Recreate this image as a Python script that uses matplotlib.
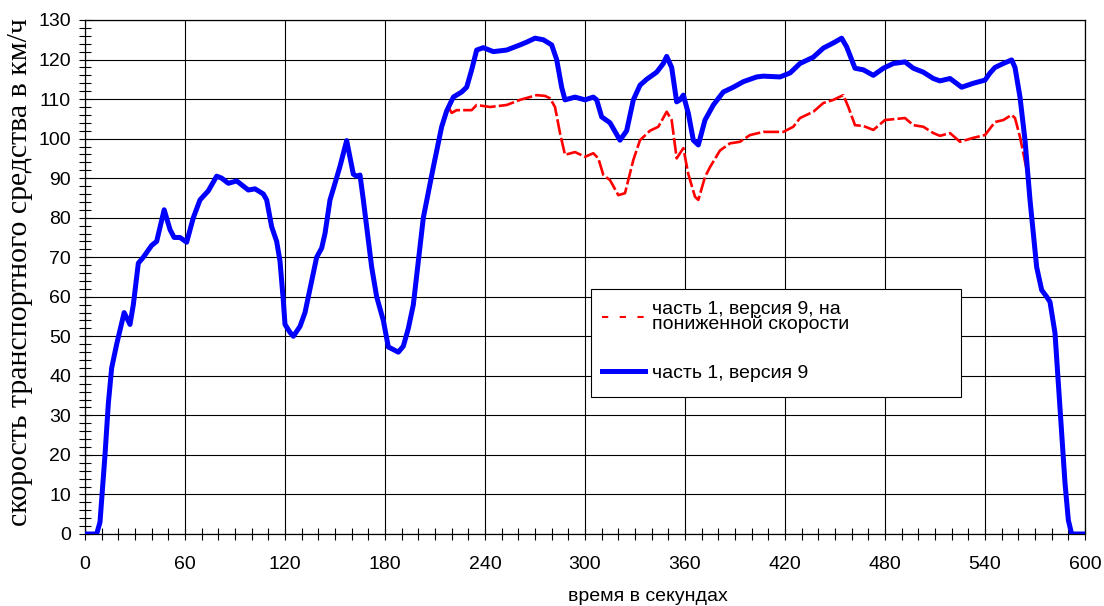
import numpy as np
import matplotlib.pyplot as plt
from matplotlib.lines import Line2D
from matplotlib.patches import Rectangle
from matplotlib.ticker import MultipleLocator

plt.rcParams['font.family'] = ['Liberation Sans', 'DejaVu Sans']

# ------------------------------
# Data
# ------------------------------

# part 1, version 9 - time in s, speed in km/h
t_v9 = [0, 7, 9, 12, 14, 16, 19, 23.5, 27, 29, 32, 35, 40, 43, 47.5, 51, 53.5, 57, 61, 65,
        69, 74, 79, 82, 86, 91, 94, 98, 102, 107, 109, 112, 115, 117, 119, 120, 123, 125, 129, 132,
        137, 139, 142, 144, 147, 150, 153, 157, 161, 163, 165, 167, 169, 172, 175, 179, 182, 188, 191, 194,
        197, 203, 209, 214, 217, 221, 226, 229, 232, 235, 239, 245, 253, 261, 265, 270, 275, 280, 283, 286,
        288, 294, 300, 305, 307, 310, 315, 321, 325, 329, 333, 337, 343, 347, 349, 352, 355, 357, 359, 362,
        365, 368, 372, 377, 383, 389, 395, 403, 407, 417, 423, 429, 437, 443, 449, 454, 457, 462, 467, 473,
        479, 485, 492, 497, 503, 509, 513, 519, 526, 533, 540, 543, 546, 551, 556, 558, 561, 564, 567, 569,
        571, 574, 577, 579, 582, 584, 586, 588, 590, 592, 600]
v_v9 = [0, 0, 3, 20, 33, 42, 48, 56, 53, 58, 68.5, 70, 73, 74, 82, 77, 75, 75, 73.8, 80,
        84.5, 86.8, 90.5, 90, 88.7, 89.3, 88.3, 87, 87.3, 86, 84.5, 77.7, 74, 69, 59, 53, 51, 50, 52.5, 56,
        66, 70, 72.3, 76, 84.5, 88.7, 93, 99.5, 91, 90.5, 90.8, 84.5, 77.7, 67.5, 60, 54, 47.3, 46, 47.5, 52,
        58, 80, 92.8, 103, 107, 110.5, 111.8, 113, 117.4, 122.4, 123, 122, 122.4, 123.7, 124.4, 125.4, 125, 123.7, 120, 113,
        109.8, 110.5, 109.8, 110.5, 109.8, 105.5, 104, 99.6, 102, 109.8, 113.5, 115, 116.8, 119, 120.8, 118, 109.3, 109.8, 111, 106.4,
        99.6, 98.4, 104.7, 108.5, 111.8, 113, 114.4, 115.6, 115.8, 115.6, 116.6, 119, 120.6, 122.9, 124.2, 125.4, 123.2, 117.8, 117.4, 116,
        117.8, 119, 119.4, 117.8, 116.8, 115.2, 114.6, 115.2, 113, 114, 114.8, 116.6, 118, 119, 119.9, 118, 110.5, 99.6, 84.5, 76,
        67.5, 61.7, 60, 58.7, 50.8, 38, 25.5, 12.9, 3.5, 0, 0]

# part 1, version 9, reduced speed - only where it differs from the curve above
t_red = [218, 220, 223, 232, 235, 243, 253, 261, 271, 276, 279, 282, 285, 288, 294, 300, 305, 308, 311, 315,
         320, 324, 329, 333, 339, 344, 349, 352, 355, 359, 362, 366, 368, 372, 375, 381, 387, 393, 399, 407,
         419, 425, 429, 437, 443, 449, 455, 458, 462, 467, 473, 480, 492, 497, 503, 509, 513, 519, 525, 533,
         540, 546, 551, 556, 558, 561, 563, 566]
v_red = [108, 106.5, 107.2, 107.2, 108.5, 108, 108.5, 109.8, 111, 110.8, 110.2, 108, 101.4, 95.9, 96.6, 95.4, 96.3, 95, 90.8, 89.5,
         85.7, 86.2, 94.6, 99.6, 102, 103, 106.8, 104.7, 95, 97.6, 91, 85.3, 84.5, 90.3, 92.8, 97, 98.8, 99.2, 100.9, 101.7,
         101.7, 103, 105.2, 106.8, 109, 109.8, 111, 108, 103.4, 103.2, 102.2, 104.7, 105.2, 103.4, 103, 101.4, 100.7, 101.4, 99.2, 100.2,
         100.9, 104.2, 104.7, 106, 105.2, 100.4, 96.3, 90]

label_red = "часть 1, версия 9, на\nпониженной скорости"
label_v9 = "часть 1, версия 9"

# ------------------------------
# Plot
# ------------------------------

fig = plt.figure(figsize=(11.04, 6.06), dpi=100)
ax = fig.add_axes([85/1104, 72/606, 1000/1104, 514/606])

ax.plot(t_red, v_red, color="red", lw=1.9, linestyle=(0, (6, 1.2)), zorder=3)
ax.plot(t_v9, v_v9, color="blue", lw=3.6, solid_joinstyle="round", solid_capstyle="round", zorder=3.5)

ax.set_xlim(0, 600)
ax.set_ylim(0, 130)
ax.xaxis.set_major_locator(MultipleLocator(60))
ax.xaxis.set_minor_locator(MultipleLocator(10))
ax.yaxis.set_major_locator(MultipleLocator(10))
ax.yaxis.set_minor_locator(MultipleLocator(2))
ax.grid(which="major", color="black", lw=0.8, zorder=0)
ax.tick_params(which="both", direction="inout", length=8, width=0.8, color="black", labelsize=14)
ax.tick_params(axis="x", pad=12)
ax.tick_params(axis="y", pad=6)
for s in ax.spines.values():
    s.set_linewidth(0.9)

ax.set_ylabel("скорость транспортного средства в км/ч", family=["Liberation Serif", "DejaVu Serif"],
              fontsize=21.5)
ax.yaxis.set_label_coords(-0.052, 0.51)
# x label sits low and off-centre, as in the source
fig.text(648/1104, 5/606, "время в секундах", ha="center", va="baseline", fontsize=14)

# legend box is wider than its content, so frame drawn separately
ax.add_patch(Rectangle((0.506, 0.2665), 0.37, 0.2102, transform=ax.transAxes,
                       facecolor="white", edgecolor="black", lw=0.8, zorder=5))
handles = [Line2D([], [], color="red", lw=1.5, linestyle=(0, (3, 5.5))),
           Line2D([], [], color="blue", lw=3.6)]
leg = ax.legend(handles, [label_red, label_v9], loc="upper left", bbox_to_anchor=(0.517, 0.453),
                frameon=False, fontsize=14, borderpad=0, borderaxespad=0, handlelength=2.2,
                handletextpad=0.35, labelspacing=1.6)
leg.set_zorder(6)
for txt in leg.get_texts():
    txt.set_linespacing(0.8)

fig.savefig("out.png", dpi=100)
